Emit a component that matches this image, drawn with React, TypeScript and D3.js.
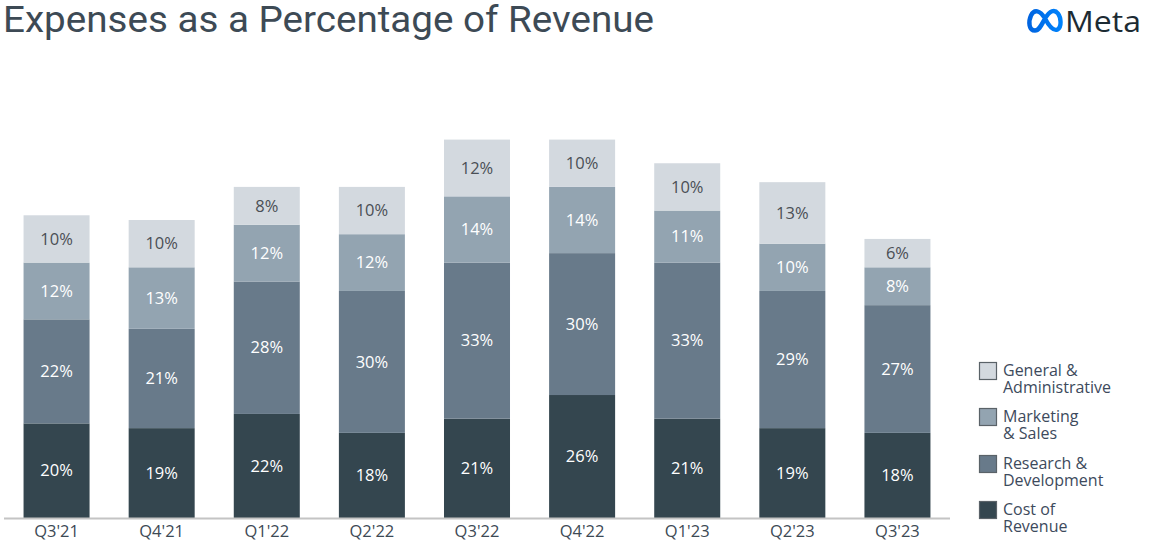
import React from "react";
import * as d3 from "d3";

const quarters = ["Q3'21", "Q4'21", "Q1'22", "Q2'22", "Q3'22", "Q4'22", "Q1'23", "Q2'23", "Q3'23"];
const costOfRevenue = [20, 19, 22, 18, 21, 26, 21, 19, 18];
const researchDev = [22, 21, 28, 30, 33, 30, 33, 29, 27];
const marketingSales = [12, 13, 12, 12, 14, 14, 11, 10, 8];
const generalAdmin = [10, 10, 8, 10, 12, 10, 10, 13, 6];

const seriesKeys = ["cost", "rd", "ms", "ga"];
const seriesLabels = [["Cost of", "Revenue"], ["Research &", "Development"], ["Marketing", "& Sales"], ["General &", "Administrative"]];
const seriesColors = ["#34464f", "#687a8a", "#93a4b1", "#d3d9df"];
const labelColors = ["#ffffff", "#ffffff", "#ffffff", "#4a4f55"];

const W = 1149;
const H = 543;

export default function App() {
  const rows = quarters.map((q, i) => ({
    q,
    cost: costOfRevenue[i],
    rd: researchDev[i],
    ms: marketingSales[i],
    ga: generalAdmin[i],
  }));
  const stack = d3.stack<any>().keys(seriesKeys)(rows);
  const x = d3.scaleBand().domain(quarters).range([4, 950]).paddingInner(0.372).paddingOuter(0.186);
  const y = d3.scaleLinear().domain([0, 100]).range([518, 45]);
  const labelFont = "'Open Sans', sans-serif";

  const legendOrder = [3, 2, 1, 0];
  const legendY = [362, 408, 455, 501];

  return (
    <svg width={W} height={H} style={{ position: "absolute", left: 0, top: 0 }}>
      <rect width={W} height={H} fill="#ffffff" />
      <text x={3} y={32} fontFamily="Roboto, sans-serif" fontSize={37.5} fill="#3d4a55" textLength={651} lengthAdjust="spacingAndGlyphs">
        Expenses as a Percentage of Revenue
      </text>
      {/* Meta logo */}
      <defs>
        <linearGradient id="metaGrad" x1="0" x2="1" y1="0" y2="0">
          <stop offset="0" stopColor="#0064e0" />
          <stop offset="1" stopColor="#0082fb" />
        </linearGradient>
      </defs>
      <path
        d="M1035,30.5 C1029,30.5 1028,22 1031,15.5 C1034,9 1040,10 1045,18.5 C1049,26 1053,31.5 1057.5,29.5 C1062,27 1061,17.5 1058,13.5 C1054.5,9 1050,10.5 1045,18.5 C1041,26 1039,30.5 1035,30.5 Z"
        fill="none"
        stroke="url(#metaGrad)"
        strokeWidth={4.4}
        strokeLinejoin="round"
      />
      <text x={1065} y={32} fontFamily="'Open Sans', sans-serif" fontSize={30} fill="#1c2b33" textLength={76} lengthAdjust="spacingAndGlyphs">
        Meta
      </text>

      {stack.map((s, si) => (
        <g key={seriesKeys[si]}>
          {s.map((d, i) => {
            const x0 = x(quarters[i]) as number;
            const top = y(d[1]);
            const bot = y(d[0]);
            const val = d[1] - d[0];
            return (
              <g key={i}>
                <rect x={x0} y={top} width={x.bandwidth()} height={bot - top} fill={seriesColors[si]} />
                <text
                  x={x0 + x.bandwidth() / 2}
                  y={(top + bot) / 2}
                  dy="0.35em"
                  textAnchor="middle"
                  fontFamily={labelFont}
                  fontSize={16.5}
                  fill={labelColors[si]}
                >
                  {`${val}%`}
                </text>
              </g>
            );
          })}
        </g>
      ))}

      <line x1={4} x2={950} y1={518.5} y2={518.5} stroke="#c4c4c4" strokeWidth={2} />
      {quarters.map((q) => (
        <text
          key={q}
          x={(x(q) as number) + x.bandwidth() / 2}
          y={537}
          textAnchor="middle"
          fontFamily={labelFont}
          fontSize={16.5}
          fill="#3d4a55"
        >
          {q}
        </text>
      ))}

      {legendOrder.map((si, k) => (
        <g key={si} transform={`translate(979,${legendY[k]})`}>
          <rect x={0.5} y={0.5} width={17} height={17} fill={seriesColors[si]} stroke="#5a6268" strokeWidth={1.2} />
          <text x={24} y={14} fontFamily={labelFont} fontSize={16} fill="#3d4a5c">
            {seriesLabels[si][0]}
          </text>
          <text x={24} y={30.5} fontFamily={labelFont} fontSize={16} fill="#3d4a5c">
            {seriesLabels[si][1]}
          </text>
        </g>
      ))}
    </svg>
  );
}
